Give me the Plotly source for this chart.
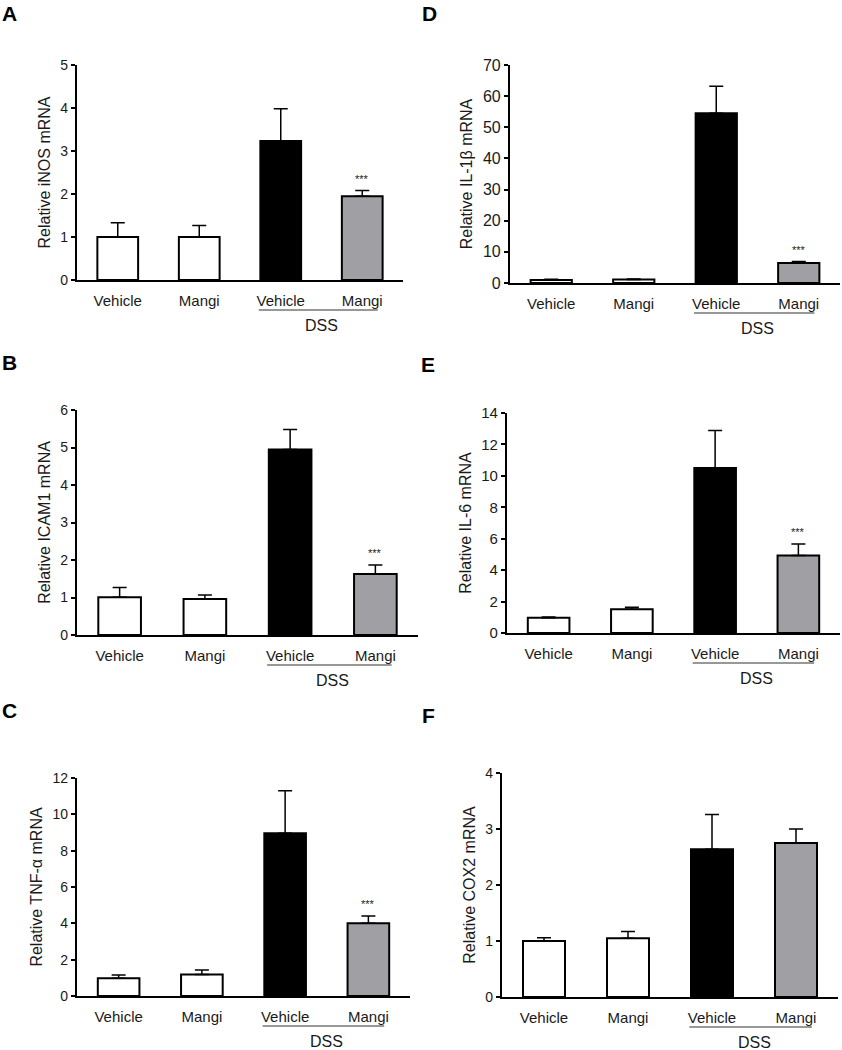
import plotly.graph_objects as go

# ---------------- data ----------------
tick_labels = ["Vehicle", "Mangi", "Vehicle", "Mangi"]
bar_colors = ["#ffffff", "#ffffff", "#000000", "#a0a0a4"]

inos_mean = [1.00, 1.00, 3.23, 1.95]
inos_err = [0.33, 0.27, 0.75, 0.13]

icam1_mean = [1.01, 0.96, 4.95, 1.63]
icam1_err = [0.26, 0.11, 0.53, 0.24]

tnf_mean = [0.98, 1.19, 8.96, 4.01]
tnf_err = [0.18, 0.24, 2.34, 0.40]

il1b_mean = [1.0, 1.1, 54.5, 6.4]
il1b_err = [0.2, 0.2, 8.7, 0.5]

il6_mean = [0.97, 1.51, 10.50, 4.93]
il6_err = [0.05, 0.13, 2.38, 0.73]

cox2_mean = [1.00, 1.05, 2.64, 2.75]
cox2_err = [0.06, 0.12, 0.62, 0.25]

panels = [
    # letter, title, mean, err, ymax, dtick, xdom px, ydom px, sig, ytick font
    ("A", "Relative iNOS mRNA", inos_mean, inos_err, 5, 1, (77, 403), (65, 280), True, 14),
    ("D", "Relative IL-1β mRNA", il1b_mean, il1b_err, 70, 10, (510, 840), (65, 283), True, 16),
    ("B", "Relative ICAM1 mRNA", icam1_mean, icam1_err, 6, 1, (77, 418), (410, 635), True, 14),
    ("E", "Relative IL-6 mRNA", il6_mean, il6_err, 14, 2, (507, 840), (413, 633), True, 15),
    ("C", "Relative TNF-α mRNA", tnf_mean, tnf_err, 12, 2, (77, 410), (778, 996), True, 14),
    ("F", "Relative COX2 mRNA", cox2_mean, cox2_err, 4, 1, (502, 838), (773, 997), False, 14),
]
letter_pos = {"A": (9, 14), "D": (429, 14), "B": (9, 363), "E": (428, 364),
              "C": (9, 710), "F": (428, 715)}

W, H = 842, 1050
FONT = "Liberation Sans, Arial, sans-serif"
TXT = "#1a1a1a"
fig = go.Figure()
annotations = []
shapes = []

for i, (letter, title, mean, err, ymax, dtick, xd, yd, sig, yfs) in enumerate(panels):
    n = i + 1
    xa = "x" if n == 1 else f"x{n}"
    ya = "y" if n == 1 else f"y{n}"
    xs = list(range(len(mean)))
    fig.add_trace(go.Bar(
        x=xs, y=mean, width=0.5, xaxis=xa, yaxis=ya,
        marker=dict(color=bar_colors, line=dict(color="black", width=2)),
        error_y=dict(type="data", symmetric=False, array=err,
                     arrayminus=[0] * len(err), color="black",
                     thickness=1.5, width=7),
        showlegend=False,
    ))
    xkey = "xaxis" if n == 1 else f"xaxis{n}"
    ykey = "yaxis" if n == 1 else f"yaxis{n}"
    fig.update_layout(**{
        xkey: dict(domain=[xd[0] / W, xd[1] / W], anchor=ya, range=[-0.5, 3.5],
                   tickvals=xs, ticktext=tick_labels, showline=True,
                   linecolor="black", linewidth=2.2, ticks="", showgrid=False,
                   zeroline=False, ticklabelstandoff=6, automargin=False,
                   tickfont=dict(family=FONT, size=15, color=TXT)),
        ykey: dict(domain=[1 - yd[1] / H, 1 - yd[0] / H], anchor=xa,
                   range=[0, ymax], dtick=dtick, showline=True,
                   linecolor="black", linewidth=2.2, ticks="outside", ticklen=4,
                   tickwidth=1.5, tickcolor="black", showgrid=False,
                   zeroline=False, automargin=False,
                   tickfont=dict(family=FONT, size=yfs, color=TXT),
                   title=dict(text=title, standoff=6,
                              font=dict(family=FONT, size=16, color=TXT))),
    })
    # DSS underline and label
    y0 = 1 - (yd[1] + 30) / H
    shapes.append(dict(type="line", xref=xa, yref="paper", x0=1.73, x1=3.19,
                       y0=y0, y1=y0, line=dict(color="#333", width=1.2)))
    annotations.append(dict(text="DSS", xref=xa, yref="paper", x=2.5,
                            y=1 - (yd[1] + 45) / H, showarrow=False,
                            xanchor="center", yanchor="middle",
                            font=dict(family=FONT, size=16, color=TXT)))
    if sig:
        annotations.append(dict(text="***", xref=xa, yref=ya, x=3,
                                y=mean[3] + err[3], yshift=12, showarrow=False,
                                yanchor="middle",
                                font=dict(family=FONT, size=11, color=TXT)))
    lx, ly = letter_pos[letter]
    annotations.append(dict(text=f"<b>{letter}</b>", xref="paper", yref="paper",
                            x=lx / W, y=1 - ly / H, xanchor="center",
                            yanchor="middle", showarrow=False,
                            font=dict(family=FONT, size=21, color="black")))

fig.update_layout(template="none", width=W, height=H,
                  margin=dict(l=0, r=0, t=0, b=0, autoexpand=False),
                  paper_bgcolor="white", plot_bgcolor="white",
                  annotations=annotations, shapes=shapes, bargap=0.5)

fig.write_html("out.html", config={"displayModeBar": False},
               post_script="document.body.style.margin='0';")
